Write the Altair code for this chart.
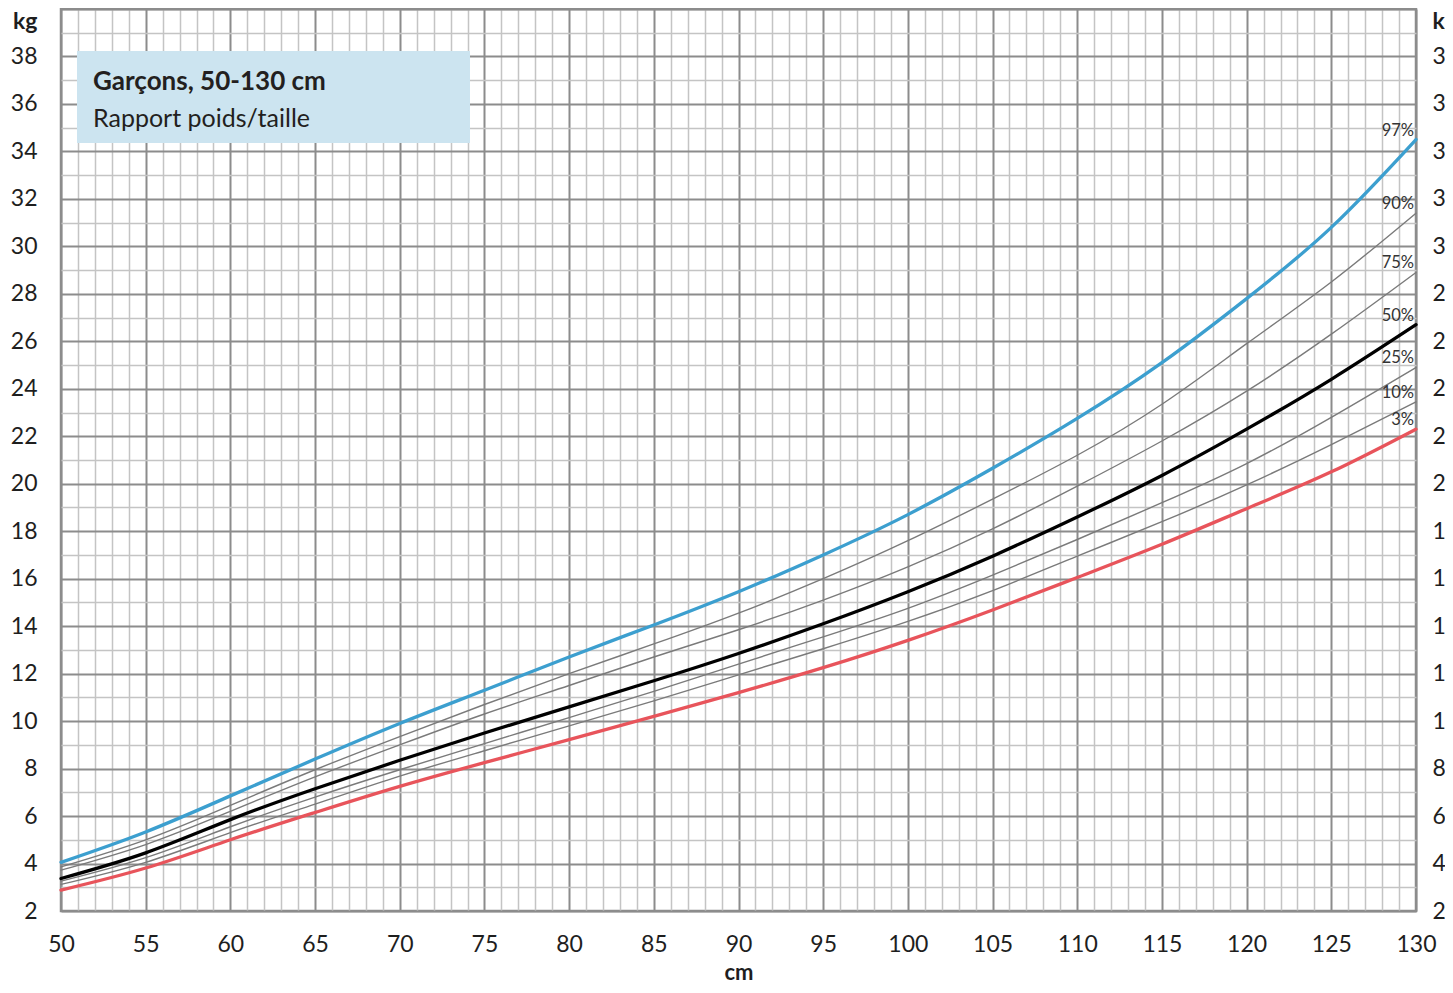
import altair as alt
import pandas as pd

# ---- data (length in cm, weight in kg) ----
length_cm = [50, 55, 60, 65, 70, 75, 80, 85, 90, 95, 100, 105, 110, 115, 120, 125, 130]
p97 = [4.05, 5.33, 6.85, 8.40, 9.90, 11.30, 12.70, 14.05, 15.45, 17.00, 18.70, 20.65, 22.75, 25.10, 27.80, 30.80, 34.50]
p90 = [3.86, 5.00, 6.45, 7.95, 9.35, 10.70, 12.00, 13.25, 14.55, 16.00, 17.60, 19.35, 21.20, 23.35, 25.90, 28.50, 31.40]
p75 = [3.72, 4.80, 6.20, 7.65, 9.00, 10.30, 11.50, 12.70, 13.85, 15.10, 16.50, 18.10, 19.90, 21.80, 23.90, 26.30, 28.90]
p50 = [3.37, 4.45, 5.85, 7.15, 8.35, 9.50, 10.60, 11.70, 12.85, 14.10, 15.45, 16.95, 18.60, 20.35, 22.30, 24.40, 26.70]
p25 = [3.26, 4.25, 5.55, 6.80, 7.95, 9.05, 10.15, 11.25, 12.40, 13.55, 14.75, 16.15, 17.65, 19.20, 20.85, 22.80, 24.90]
p10 = [3.12, 4.05, 5.30, 6.50, 7.68, 8.75, 9.80, 10.85, 11.95, 13.05, 14.20, 15.50, 16.95, 18.40, 19.95, 21.65, 23.45]
p3 = [2.88, 3.81, 5.00, 6.15, 7.25, 8.25, 9.22, 10.20, 11.20, 12.25, 13.40, 14.68, 16.05, 17.45, 18.95, 20.50, 22.30]

thin_names = ["10%", "25%", "75%", "90%"]
bold_names = ["50%", "3%", "97%"]
series = {"3%": p3, "10%": p10, "25%": p25, "50%": p50, "75%": p75, "90%": p90, "97%": p97}

title_main = "Garçons, 50-130 cm"
title_sub = "Rapport poids/taille"


def long_table(names):
    rows = []
    for name in names:
        for x, v in zip(length_cm, series[name]):
            rows.append({"cm": x, "kg": v, "pct": name})
    return pd.DataFrame(rows)


df_thin = long_table(thin_names)
df_bold = long_table(bold_names)
all_names = thin_names + bold_names
ends = pd.DataFrame([{"cm": length_cm[-1], "kg": series[n][-1], "pct": n} for n in all_names])

# ---- styling ----
FONT = "Lato"
MAJOR = "#8c8c8c"
MINOR = "#c4c4c4"
TXT = "#1e1e1e"
W, H = 1355, 902

bold_colors = alt.Scale(domain=["3%", "50%", "97%"], range=["#e8545b", "#000000", "#3c9fcf"])

xscale = alt.Scale(domain=[50, 130], nice=False, zero=False)
yscale = alt.Scale(domain=[2, 40], nice=False, zero=False)

x_axis = alt.Axis(
    values=list(range(50, 131)),
    labelExpr="datum.value % 5 === 0 ? datum.label : ''",
    grid=True,
    gridColor={"condition": {"test": "datum.value % 5 === 0", "value": MAJOR}, "value": MINOR},
    gridWidth={"condition": {"test": "datum.value % 5 === 0", "value": 2}, "value": 1.5},
    ticks=False, domain=False,
    labelFont=FONT, labelFontSize=23, labelColor=TXT, labelPadding=22,
    labelOverlap=False, labelFlush=False, labelBound=False,
    title="cm", titleFont=FONT, titleFontSize=22, titleFontWeight="bold",
    titleColor=TXT, titlePadding=6,
)

y_label_expr = "datum.value === 40 ? 'kg' : (datum.value % 2 === 0 ? datum.label : '')"
y_axis_left = alt.Axis(
    values=list(range(2, 41)),
    labelExpr=y_label_expr,
    grid=True,
    gridColor={"condition": {"test": "datum.value % 2 === 0", "value": MAJOR}, "value": MINOR},
    gridWidth={"condition": {"test": "datum.value % 2 === 0", "value": 2}, "value": 1.5},
    ticks=False, domain=False,
    labelFont=FONT, labelFontSize=23, labelColor=TXT, labelPadding=24,
    labelFontWeight={"condition": {"test": "datum.value === 40", "value": "bold"}, "value": "normal"},
    labelOffset={"condition": {"test": "datum.value === 40", "value": 12}, "value": 0},
    labelOverlap=False, labelFlush=False, labelBound=False,
    title=None, orient="left",
)
y_axis_right = alt.Axis(
    values=list(range(2, 41)),
    labelExpr=y_label_expr,
    grid=False, ticks=False, domain=False,
    labelFont=FONT, labelFontSize=23, labelColor=TXT, labelPadding=16, labelAlign="left",
    labelFontWeight={"condition": {"test": "datum.value === 40", "value": "bold"}, "value": "normal"},
    labelOffset={"condition": {"test": "datum.value === 40", "value": 12}, "value": 0},
    labelOverlap=False, labelFlush=False, labelBound=False,
    title=None, orient="right",
)

thin = alt.Chart(df_thin).mark_line(
    interpolate="natural", strokeWidth=1.4, color="#7a7a7a", strokeCap="round"
).encode(
    x=alt.X("cm:Q", scale=xscale, axis=x_axis),
    y=alt.Y("kg:Q", scale=yscale, axis=y_axis_left),
    detail="pct:N",
)

bold = alt.Chart(df_bold).mark_line(
    interpolate="natural", strokeWidth=3.3, strokeCap="round"
).encode(
    x=alt.X("cm:Q", scale=xscale, axis=x_axis),
    y=alt.Y("kg:Q", scale=yscale, axis=None),
    color=alt.Color("pct:N", scale=bold_colors, legend=None),
    detail="pct:N",
)

right_axis = alt.Chart(df_bold).mark_point(opacity=0).encode(
    x=alt.X("cm:Q", scale=xscale, axis=x_axis),
    y=alt.Y("kg:Q", scale=yscale, axis=y_axis_right),
)

labels = alt.Chart(ends).mark_text(
    align="right", baseline="middle", dx=-2, dy=-9, font=FONT, fontSize=16.5, color="#333333"
).encode(
    x=alt.X("cm:Q", scale=xscale, axis=x_axis),
    y=alt.Y("kg:Q", scale=yscale, axis=None),
    text="pct:N",
)

box = alt.Chart(alt.Data(values=[{"k": 1}])).mark_rect(color="#cce4f0").encode(
    x=alt.value(16), x2=alt.value(409), y=alt.value(42), y2=alt.value(134)
)
box_title = alt.Chart(alt.Data(values=[{"t": title_main}])).mark_text(
    align="left", baseline="middle", font=FONT, fontSize=26, fontWeight="bold", color="#231f20"
).encode(x=alt.value(32), y=alt.value(73), text="t:N")
box_sub = alt.Chart(alt.Data(values=[{"t": title_sub}])).mark_text(
    align="left", baseline="middle", font=FONT, fontSize=25, color="#231f20"
).encode(x=alt.value(32), y=alt.value(110), text="t:N")

chart = alt.layer(thin, bold, right_axis, box, box_title, box_sub, labels).resolve_axis(
    y="independent"
).properties(
    width=W, height=H,
    autosize=alt.AutoSizeParams(type="none"),
    padding={"left": 53, "top": 1, "right": 29, "bottom": 73},
    background="white",
).configure_view(stroke=MAJOR, strokeWidth=2.5)

chart.save("out.html", embed_options={"renderer": "svg", "actions": False})
